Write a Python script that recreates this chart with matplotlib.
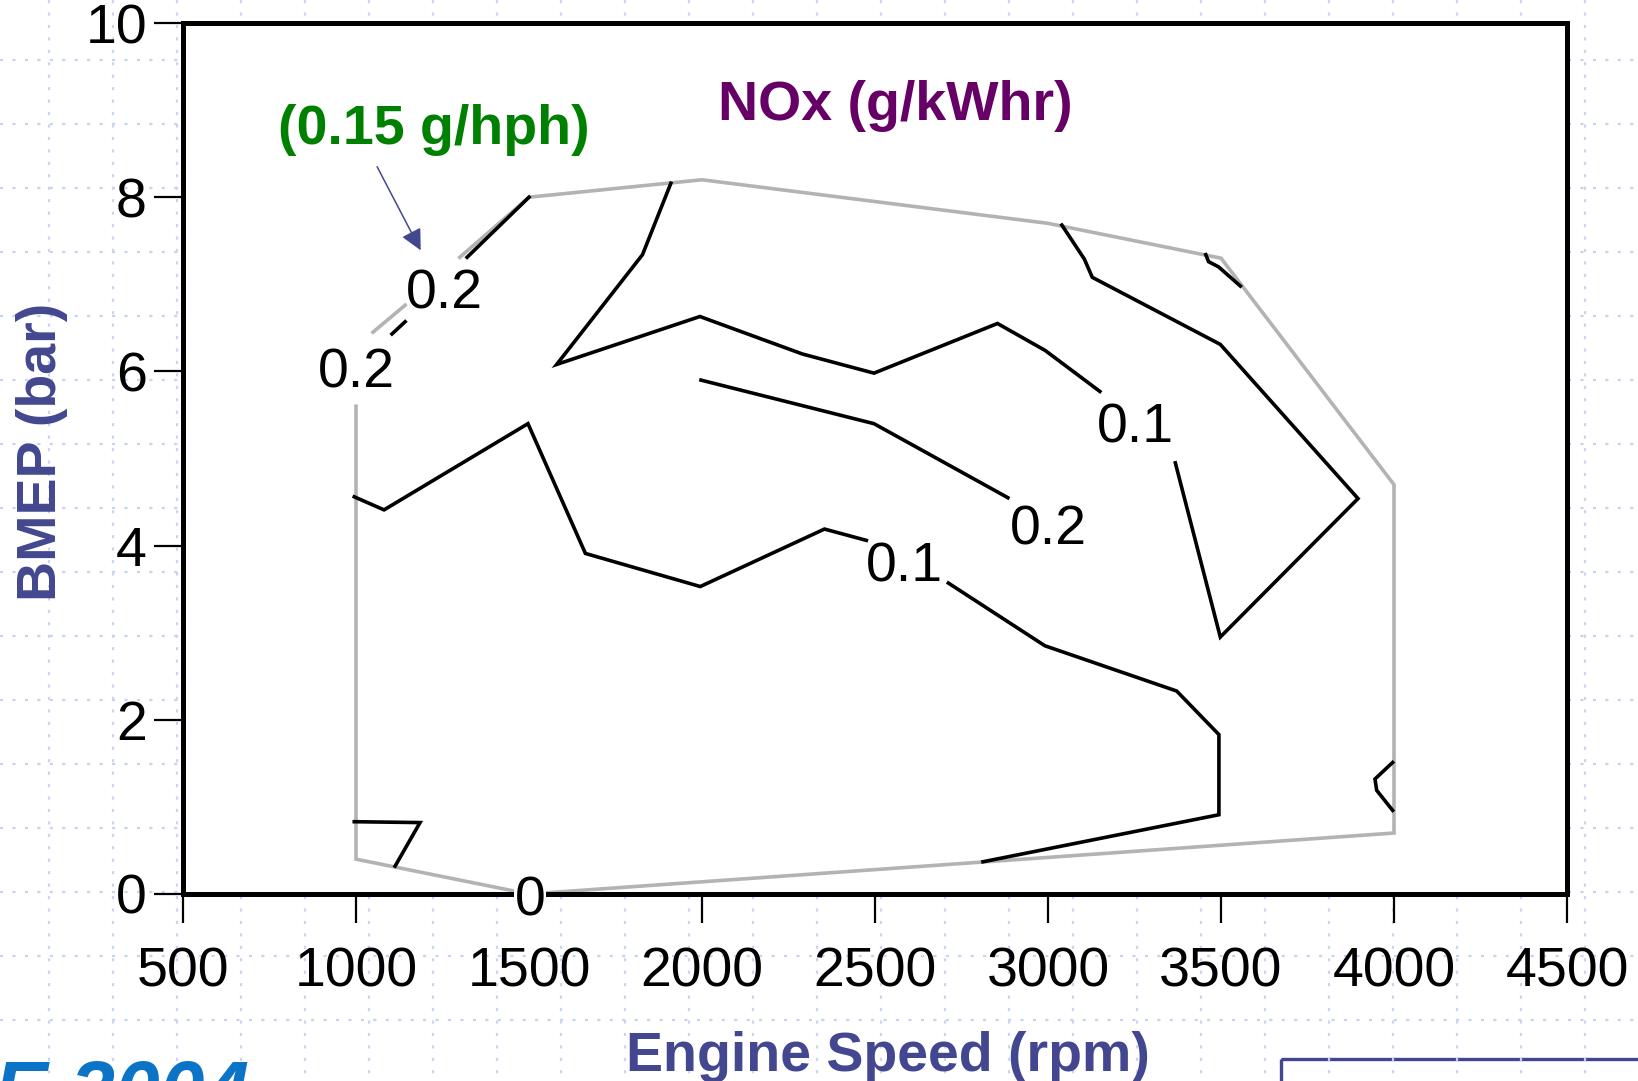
"""
NOx contour map over the engine operating envelope (BMEP vs engine speed).
"""

import numpy as np
import matplotlib.pyplot as plt
from matplotlib.patches import Rectangle

plt.rcParams['font.family'] = ['Liberation Sans', 'DejaVu Sans']

W, H = 1638, 1081

# axis ticks
rpm_ticks = [500, 1000, 1500, 2000, 2500, 3000, 3500, 4000, 4500]
bmep_ticks = [0, 2, 4, 6, 8, 10]

# grey operating envelope, split where contour labels sit on top of it
env_main_rpm = [1000, 1000, 1500, 4000, 4000, 3500, 3000, 2000, 1500, 1300]
env_main_bmep = [5.6, 0.4, 0.0, 0.7, 4.7, 7.3, 7.7, 8.2, 8.0, 7.31]
env_bit_rpm = [1049, 1142]
env_bit_bmep = [6.45, 6.76]

# NOx contour pieces (g/kWhr)
c02_edge_rpm = [1321, 1500]
c02_edge_bmep = [7.31, 8.0]
c02_stub_rpm = [1104, 1142]
c02_stub_bmep = [6.43, 6.57]
c01_top_rpm = [1910, 1828, 1580, 1994, 2290, 2497, 2854, 2992, 3150]
c01_top_bmep = [8.16, 7.34, 6.08, 6.63, 6.20, 5.98, 6.55, 6.24, 5.77]
c01_right_rpm = [3368, 3498, 3896, 3498, 3128, 3105, 3040]
c01_right_bmep = [4.95, 2.95, 4.54, 6.31, 7.08, 7.29, 7.68]
c02_mid_rpm = [1997, 2497, 2884]
c02_mid_bmep = [5.90, 5.40, 4.55]
c01_low_rpm = [995, 1081, 1497, 1663, 1995, 2354, 2475]
c01_low_bmep = [4.56, 4.41, 5.40, 3.91, 3.53, 4.19, 4.06]
c01_tail_rpm = [2712, 2991, 3372, 3494, 3494, 2812]
c01_tail_bmep = [3.57, 2.85, 2.33, 1.83, 0.91, 0.37]
c_corner_rpm = [3456, 3464, 3493, 3556]
c_corner_bmep = [7.34, 7.26, 7.20, 6.98]
c_edge4k_rpm = [3996, 3945, 3950, 3996]
c_edge4k_bmep = [1.51, 1.32, 1.19, 0.96]
c_lowleft_rpm = [995, 1185, 1113]
c_lowleft_bmep = [0.83, 0.82, 0.32]

# inline contour labels
lab_text = ['0.2', '0.2', '0.1', '0.2', '0.1']
lab_rpm = [1255, 1000, 3253, 3000, 2586]
lab_bmep = [6.88, 5.98, 5.35, 4.17, 3.75]
zero_rpm, zero_bmep = 1503, -0.09

# arrow pointing at the 0.15 g/hph line
arrow_tail = (1061, 8.35)
arrow_tip = (1187, 7.39)

NAVY = '#43478f'
GRID = '#c9d3f2'

fig = plt.figure(figsize=(W / 100, H / 100), dpi=100)

# slide background: dotted blue grid
bg = fig.add_axes([0, 0, 1, 1], zorder=0)
bg.set_xlim(0, W)
bg.set_ylim(H, 0)
bg.axis('off')
bg.vlines(np.arange(49, W, 64), 0, H, colors=GRID, lw=1.6, linestyles=(0, (1.4, 4.2)))
bg.hlines(np.arange(60, H, 64), 0, W, colors=GRID, lw=1.6, linestyles=(0, (1.4, 4.2)))
# conference logo, cut by the bottom edge as on the slide
bg.text(-6, 1118, 'E 2004', fontsize=58, fontweight='bold', style='italic',
        color='#0b74c6', ha='left', va='baseline')
bg.add_patch(Rectangle((1281, 1059), 400, 100, fill=False, ec=NAVY, lw=2.4))

ax = fig.add_axes([183 / W, 1 - 894 / H, (1567 - 183) / W, (894 - 23) / H], zorder=1)
ax.set_facecolor('white')

grey = dict(color='#b3b3b3', lw=2.6, solid_joinstyle='miter')
ax.plot(env_main_rpm, env_main_bmep, **grey)
ax.plot(env_bit_rpm, env_bit_bmep, **grey)

black = dict(color='black', lw=2.6, solid_joinstyle='miter')
pieces = [
    (c02_edge_rpm, c02_edge_bmep), (c02_stub_rpm, c02_stub_bmep),
    (c01_top_rpm, c01_top_bmep), (c01_right_rpm, c01_right_bmep),
    (c02_mid_rpm, c02_mid_bmep), (c01_low_rpm, c01_low_bmep),
    (c01_tail_rpm, c01_tail_bmep), (c_corner_rpm, c_corner_bmep),
    (c_edge4k_rpm, c_edge4k_bmep), (c_lowleft_rpm, c_lowleft_bmep),
]
for xs, ys in pieces:
    ax.plot(xs, ys, **black)

for t, x, y in zip(lab_text, lab_rpm, lab_bmep):
    ax.text(x, y, t, fontsize=40, ha='center', va='center', zorder=4)
ax.text(zero_rpm, zero_bmep, '0', fontsize=40, ha='center', va='center', zorder=5,
        clip_on=False, bbox=dict(fc='white', ec='none', pad=0.5))

ax.annotate('', xy=arrow_tip, xytext=arrow_tail,
            arrowprops=dict(arrowstyle='-|>', color=NAVY, lw=1.1, mutation_scale=32,
                            shrinkA=0, shrinkB=0))

ax.set_xlim(500, 4500)
ax.set_ylim(0, 10)
ax.set_xticks(rpm_ticks)
ax.set_yticks(bmep_ticks)
ax.tick_params(direction='out', length=21, width=1.6, labelsize=40, colors='black')
ax.tick_params(axis='x', pad=17)
ax.tick_params(axis='y', pad=5)
for s in ax.spines.values():
    s.set_linewidth(3.6)

# titles
fig.text(895 / W, 1 - 120 / H, 'NOx (g/kWhr)', fontsize=40, fontweight='bold',
         color='#660066', ha='center', va='baseline', zorder=3)
fig.text(434 / W, 1 - 144 / H, '(0.15 g/hph)', fontsize=40, fontweight='bold',
         color='#008000', ha='center', va='baseline', zorder=3)
fig.text(888 / W, 1 - 1071 / H, 'Engine Speed (rpm)', fontsize=40, fontweight='bold',
         color=NAVY, ha='center', va='baseline', zorder=3)
fig.text(56 / W, 1 - 452 / H, 'BMEP (bar)', fontsize=40, fontweight='bold',
         color=NAVY, ha='center', va='baseline', rotation=90,
         rotation_mode='anchor', zorder=3)

plt.savefig('out.png', dpi=100)
